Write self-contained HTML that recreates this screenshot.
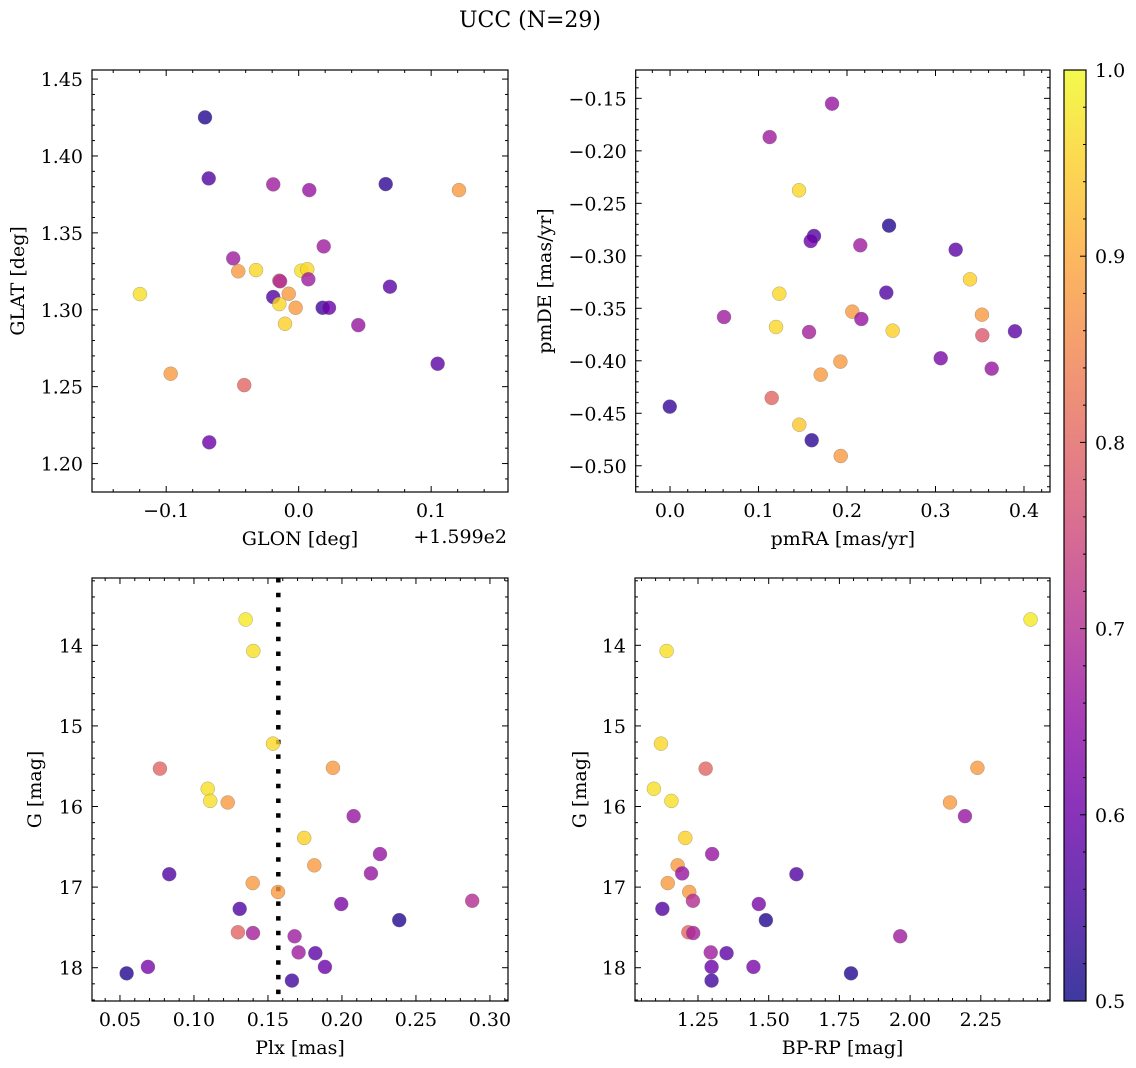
<!DOCTYPE html>
<html><head><meta charset="utf-8"><style>
html,body{margin:0;padding:0;background:#fff;}
svg{display:block;font-family:"DejaVu Serif","Liberation Serif",serif;}
</style></head><body>
<svg id="fig" width="1136" height="1068" viewBox="0 0 1136 1068" xmlns="http://www.w3.org/2000/svg">
<defs>
<linearGradient id="cbgrad" x1="0" y1="1" x2="0" y2="0">
<stop offset="0" stop-color="#0d0887"/><stop offset="0.1" stop-color="#41049d"/><stop offset="0.2" stop-color="#6a00a8"/><stop offset="0.3" stop-color="#8f0da4"/><stop offset="0.4" stop-color="#b12a90"/><stop offset="0.5" stop-color="#cc4778"/><stop offset="0.6" stop-color="#e16462"/><stop offset="0.7" stop-color="#f2844b"/><stop offset="0.8" stop-color="#fca636"/><stop offset="0.9" stop-color="#fcce25"/><stop offset="1" stop-color="#f0f921"/>
</linearGradient>
</defs>
<text x="530" y="27" font-size="22" text-anchor="middle">UCC (N=29)</text>
</svg>
<script>
// Panel 1: GLON offset from 159.9 deg, GLAT
const glonOffset=[-0.0707,-0.0679,-0.0192,0.0080,0.0657,0.1210,0.0189,-0.0494,-0.0456,-0.0322,0.0020,0.0065,-0.0146,0.0073,-0.1198,-0.0192,-0.0075,-0.0146,-0.0023,0.0181,0.0229,0.0689,-0.0103,0.0450,0.1049,-0.0966,-0.0411,-0.0675,-0.0140];
const glat=[1.4251,1.3854,1.3815,1.3778,1.3817,1.3778,1.3412,1.3334,1.3250,1.3258,1.3254,1.3263,1.3189,1.3198,1.3102,1.3083,1.3104,1.3037,1.3013,1.3013,1.3013,1.3150,1.2909,1.2900,1.2649,1.2584,1.2510,1.2138,1.3185];
const probP1=[0.52,0.57,0.67,0.66,0.53,0.88,0.67,0.67,0.88,0.96,0.97,0.96,0.76,0.67,0.97,0.57,0.88,0.96,0.88,0.55,0.60,0.58,0.95,0.66,0.58,0.88,0.80,0.60,0.70];
// Panel 2: proper motions
const pmRA=[0.1831,0.1126,0.1458,0.2475,0.1627,0.1590,0.2150,0.3228,0.3390,0.1235,0.2444,0.0610,0.2060,0.2162,0.3525,0.1198,0.1571,0.2516,0.3529,0.3898,0.1925,0.3059,0.1703,0.3635,0.1149,-0.0003,0.1461,0.1601,0.1929];
const pmDE=[-0.1551,-0.1869,-0.2376,-0.2713,-0.2811,-0.2859,-0.2900,-0.2942,-0.3224,-0.3361,-0.3351,-0.3583,-0.3532,-0.3602,-0.3561,-0.3678,-0.3726,-0.3713,-0.3757,-0.3719,-0.4008,-0.3976,-0.4132,-0.4075,-0.4354,-0.4437,-0.4609,-0.4757,-0.4907];
const probP2=[0.66,0.67,0.96,0.52,0.57,0.60,0.67,0.58,0.95,0.96,0.57,0.67,0.88,0.66,0.88,0.96,0.68,0.95,0.78,0.58,0.88,0.62,0.88,0.66,0.80,0.54,0.94,0.53,0.88];
// Panels 3 & 4: photometry / parallax
const gmag=[13.68,14.07,15.22,15.53,15.52,15.78,15.93,15.95,16.12,16.39,16.59,16.73,16.83,16.84,16.95,17.06,17.17,17.21,17.27,17.41,17.56,17.57,17.61,17.81,17.82,17.99,17.99,18.07,18.16];
const plx=[0.1349,0.1401,0.1534,0.0770,0.1939,0.1093,0.1110,0.1228,0.2079,0.1745,0.2257,0.1813,0.2196,0.0833,0.1397,0.1568,0.2880,0.1995,0.1309,0.2387,0.1297,0.1399,0.1680,0.1707,0.1820,0.0689,0.1885,0.0545,0.1662];
const bprp=[2.426,1.139,1.119,1.277,2.238,1.094,1.156,2.141,2.194,1.205,1.300,1.178,1.194,1.598,1.143,1.219,1.232,1.465,1.124,1.490,1.216,1.233,1.965,1.295,1.351,1.446,1.298,1.791,1.298];
const probB=[0.98,0.97,0.96,0.80,0.88,0.97,0.97,0.88,0.66,0.95,0.66,0.88,0.66,0.57,0.88,0.88,0.70,0.62,0.57,0.52,0.80,0.68,0.67,0.67,0.58,0.62,0.60,0.52,0.55];
const plxLine=[0.157];
const cbTicks=[0.5,0.6,0.7,0.8,0.9,1.0];

const NS='http://www.w3.org/2000/svg';
const svg=document.getElementById('fig');
const FS=19, LS=19;
function mk(tag,attrs,parent){const e=document.createElementNS(NS,tag);for(const k in attrs)e.setAttribute(k,attrs[k]);(parent||svg).appendChild(e);return e;}
const stops=[[13,8,135],[65,4,157],[106,0,168],[143,13,164],[177,42,144],[204,71,120],[225,100,98],[242,132,75],[252,166,54],[252,206,37],[240,249,33]];
function plasma(v){let t=(v-0.5)/0.5;t=Math.max(0,Math.min(1,t))*10;const i=Math.min(9,Math.floor(t)),f=t-i;const a=stops[i],b=stops[i+1];return 'rgb('+a.map((c,j)=>Math.round(c+(b[j]-c)*f)).join(',')+')';}

function panel(cfg){
  const g=mk('g',{});
  
  
  const {x0,x1,y0,y1}=cfg.box;
  const sx=v=>x0+(v-cfg.xr[0])/(cfg.xr[1]-cfg.xr[0])*(x1-x0);
  const sy=v=>cfg.yinv? y0+(v-cfg.yr[0])/(cfg.yr[1]-cfg.yr[0])*(y1-y0) : y1-(v-cfg.yr[0])/(cfg.yr[1]-cfg.yr[0])*(y1-y0);
  if(cfg.vline){const ln=mk('line',{x1:sx(cfg.vline),x2:sx(cfg.vline),y1:y0,y2:y1,stroke:'#000','stroke-width':4.5,'stroke-dasharray':'4.5 10.2'},g);
    
    }
  for(let i=0;i<cfg.xs.length;i++){
    const c=mk('circle',{cx:sx(cfg.xs[i]),cy:sy(cfg.ys[i]),r:7,fill:plasma(cfg.cs[i]),'fill-opacity':0.8,stroke:'#777','stroke-opacity':0.6,'stroke-width':0.5},g);
    
    
  }
  const fr=mk('rect',{x:x0,y:y0,width:x1-x0,height:y1-y0,fill:'none',stroke:'#000','stroke-width':1.2},g);
  
  
  const eps=1e-9;
  const xmaj=cfg.xt[0],xmin=cfg.xt[1];
  for(let v=Math.ceil((cfg.xr[0]-eps)/xmin)*xmin;v<=cfg.xr[1]+eps;v+=xmin){
    const isMaj=Math.abs(v/xmaj-Math.round(v/xmaj))<1e-6;const L=isMaj?6:3;const px=sx(v);
    mk('line',{x1:px,x2:px,y1:y1,y2:y1-L,stroke:'#000','stroke-width':1},g);
    mk('line',{x1:px,x2:px,y1:y0,y2:y0+L,stroke:'#000','stroke-width':1},g);
    if(isMaj){const t=mk('text',{x:px,y:y1+25,'font-size':FS,'text-anchor':'middle'},g);
      
      
      t.textContent=cfg.xfmt(Math.round(v/xmaj)*xmaj);}
  }
  const ymaj=cfg.yt[0],ymin=cfg.yt[1];
  for(let v=Math.ceil((cfg.yr[0]-eps)/ymin)*ymin;v<=cfg.yr[1]+eps;v+=ymin){
    const isMaj=Math.abs(v/ymaj-Math.round(v/ymaj))<1e-6;const L=isMaj?6:3;const py=sy(v);
    mk('line',{x1:x0,x2:x0+L,y1:py,y2:py,stroke:'#000','stroke-width':1},g);
    mk('line',{x1:x1,x2:x1-L,y1:py,y2:py,stroke:'#000','stroke-width':1},g);
    if(isMaj){const t=mk('text',{x:x0-9,y:py+7,'font-size':FS,'text-anchor':'end'},g);
      
      
      t.textContent=cfg.yfmt(Math.round(v/ymaj)*ymaj);}
  }
  const xl=mk('text',{x:(x0+x1)/2+cfg.xlOff,y:y1+53,'font-size':LS,'text-anchor':'middle'},g);
  
  
  xl.textContent=cfg.xlabel;
  const yl=mk('text',{x:cfg.ylx,y:(y0+y1)/2,'font-size':LS,'text-anchor':'middle',transform:'rotate(-90 '+cfg.ylx+' '+(y0+y1)/2+')'},g);
  
  
  yl.textContent=cfg.ylabel;
  return g;
}
const m=s=>s.replace('-','\u2212');
const f1=v=>m(v.toFixed(1)), f2=v=>m(v.toFixed(2)), f0=v=>v.toFixed(0);
panel({name:'glon-glat-panel',box:{x0:92,x1:508,y0:70,y1:492},xr:[-0.156,0.158],yr:[1.1815,1.4559],xt:[0.1,0.02],yt:[0.05,0.01],xs:glonOffset,ys:glat,cs:probP1,xfmt:f1,yfmt:f2,xlabel:'GLON [deg]',xlOff:0,ylabel:'GLAT [deg]',ylx:24});
const off=mk('text',{x:507,y:543,'font-size':FS,'text-anchor':'end'});


off.textContent='+1.599e2';
panel({name:'pm-panel',box:{x0:635.7,x1:1050,y0:70,y1:492},xr:[-0.0388,0.4294],yr:[-0.525,-0.123],xt:[0.1,0.02],yt:[0.05,0.01],xs:pmRA,ys:pmDE,cs:probP2,xfmt:f1,yfmt:f2,xlabel:'pmRA [mas/yr]',xlOff:0,ylabel:'pmDE [mas/yr]',ylx:551});
panel({name:'plx-g-panel',box:{x0:92,x1:508,y0:578,y1:1001},xr:[0.0311,0.3122],yr:[13.165,18.413],yinv:true,xt:[0.05,0.01],yt:[1,0.2],xs:plx,ys:gmag,cs:probB,vline:plxLine[0],xfmt:f2,yfmt:f0,xlabel:'Plx [mas]',xlOff:0,ylabel:'G [mag]',ylx:41});
panel({name:'cmd-panel',box:{x0:635,x1:1050,y0:578,y1:1001},xr:[1.0272,2.4947],yr:[13.165,18.413],yinv:true,xt:[0.25,0.05],yt:[1,0.2],xs:bprp,ys:gmag,cs:probB,xfmt:f2,yfmt:f0,xlabel:'BP-RP [mag]',xlOff:0,ylabel:'G [mag]',ylx:586});
const cb=mk('g',{});


const cbx0=1064,cbx1=1086,cby0=70,cby1=1001;
mk('rect',{x:cbx0,y:cby0,width:cbx1-cbx0,height:cby1-cby0,fill:'url(#cbgrad)','fill-opacity':0.8},cb);
mk('rect',{x:cbx0,y:cby0,width:cbx1-cbx0,height:cby1-cby0,fill:'none',stroke:'#000','stroke-width':1.2},cb);
const cy=v=>cby1-(v-0.5)/0.5*(cby1-cby0);
for(let k=0;k<=25;k++){const v=0.5+k*0.02;const isMaj=k%5===0;const py=cy(v);
  mk('line',{x1:cbx1,x2:cbx1-(isMaj?6:3),y1:py,y2:py,stroke:'#000','stroke-width':1},cb);}
cbTicks.forEach(v=>{const t=mk('text',{x:cbx1+9,y:cy(v)+7,'font-size':FS},cb);
  
  
  t.textContent=v.toFixed(1);});
</script>
</body></html>
